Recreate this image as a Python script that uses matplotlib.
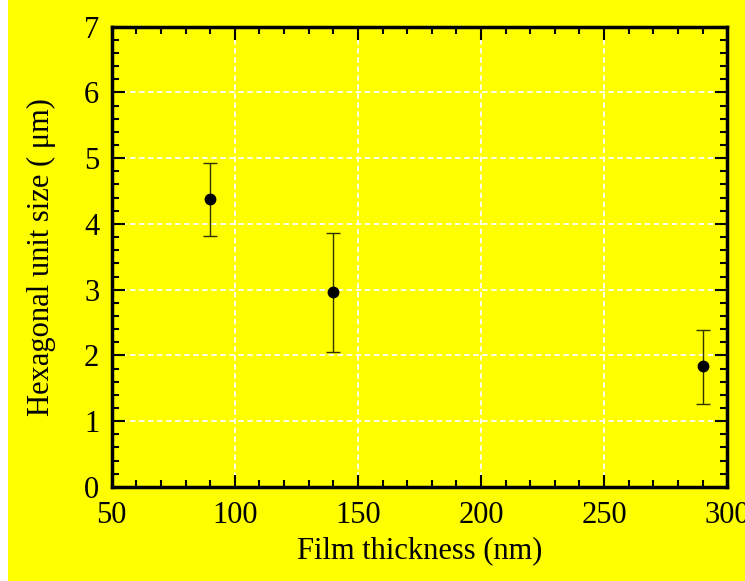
import matplotlib.pyplot as plt
from matplotlib.patches import Rectangle

# film thickness (nm) vs hexagonal unit size (um)
thickness = [90, 140, 290]
unit_size = [4.38, 2.97, 1.84]
err_upper = [0.54, 0.89, 0.55]
err_lower = [0.57, 0.92, 0.58]

plt.rcParams['font.family'] = ['Liberation Serif', 'DejaVu Serif']

fig = plt.figure(figsize=(7.45, 5.81), dpi=100, facecolor='#ffff00')
fig.patches.append(Rectangle((0, 0), 8 / 745, 1, transform=fig.transFigure,
                             facecolor='white', edgecolor='none', zorder=0))
ax = fig.add_axes([0.150, 0.162, 0.826, 0.792])
ax.set_facecolor('#ffff00')

ax.errorbar(thickness, unit_size, yerr=[err_lower, err_upper], fmt='o',
            color='black', ecolor='#333300', elinewidth=1, capsize=5,
            capthick=1, markersize=7.5, zorder=3)

ax.set_xlim(50, 300)
ax.set_ylim(0, 7)
ax.set_xticks(range(50, 301, 50))
ax.set_xticks(range(50, 301, 10), minor=True)
ax.set_yticks(range(0, 8))
ax.set_yticks([i * 0.2 for i in range(36)], minor=True)
ax.grid(True, color='white', linestyle=(0, (3, 2)), linewidth=1.3)

ax.tick_params(which='both', direction='in', top=True, right=True,
               labelsize=22, width=1.5)
ax.tick_params(axis='x', pad=10)
ax.tick_params(axis='y', pad=9)
ax.tick_params(which='major', length=9)
ax.tick_params(which='minor', length=5)
for s in ax.spines.values():
    s.set_linewidth(2.5)

ax.set_xlabel('Film thickness (nm)', fontsize=22, labelpad=5)
ax.set_ylabel('Hexagonal unit size ( \u03bcm)', fontsize=22, labelpad=20)

fig.savefig('out.png', dpi=100, facecolor=fig.get_facecolor())
